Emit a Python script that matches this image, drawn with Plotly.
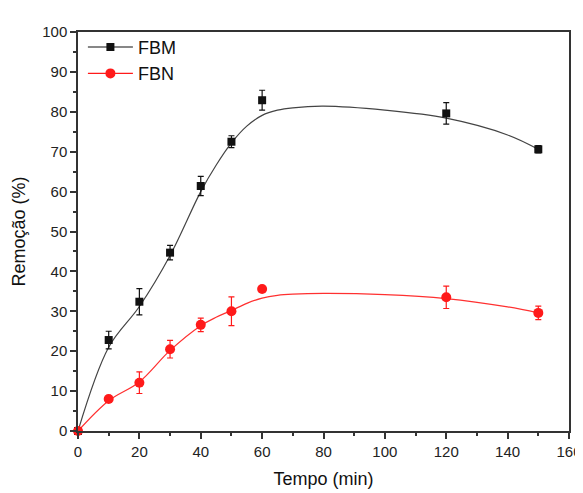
import plotly.graph_objects as go

tempo = [0, 10, 20, 30, 40, 50, 60, 120, 150]
fbm = [0, 22.8, 32.4, 44.7, 61.4, 72.5, 82.9, 79.6, 70.6]
fbm_err = [0, 2.2, 3.3, 1.8, 2.4, 1.5, 2.5, 2.7, 0.9]
fbn = [0, 8.0, 12.1, 20.5, 26.6, 30.0, 35.6, 33.5, 29.6]
fbn_err = [0, 0.8, 2.7, 2.2, 1.7, 3.6, 0, 2.8, 1.7]

# curvas ajustadas, lidas ponto a ponto no gráfico
curva_t = [0, 10, 20, 30, 40, 45, 50, 55, 60, 65, 70, 80, 100, 120, 140, 150]
curva_fbm = [0, 21.0, 31.2, 44.0, 60.0, 66.6, 72.2, 76.4, 79.1, 80.4, 81.0, 81.4, 80.4, 78.4, 74.2, 70.6]
curva_fbn = [0, 7.6, 12.3, 20.2, 26.4, 28.5, 30.2, 32.0, 33.3, 34.0, 34.3, 34.5, 34.2, 33.2, 31.1, 29.6]

FONT = "Arial, Liberation Sans, sans-serif"
PRETO = "#111111"
VERMELHO = "#ff1a1a"

fig = go.Figure()

series = [
    ("FBM", fbm, fbm_err, curva_fbm, PRETO, "#444444", "square", 8),
    ("FBN", fbn, fbn_err, curva_fbn, VERMELHO, "#ff3030", "circle", 10),
]
for nome, y, err, curva, cor, cor_linha, simbolo, tam in series:
    fig.add_trace(go.Scatter(
        x=curva_t, y=curva, mode="lines", line=dict(color=cor_linha, width=1.2, shape="spline", smoothing=1.0),
        showlegend=False, hoverinfo="skip",
    ))
    fig.add_trace(go.Scatter(
        x=tempo, y=y, mode="markers", name=nome, showlegend=False,
        marker=dict(symbol=simbolo, size=tam, color=cor),
        error_y=dict(type="data", array=err, color=cor, thickness=1.2, width=3),
        cliponaxis=False,
    ))
    # entrada da legenda (linha + marcador)
    fig.add_trace(go.Scatter(
        x=[None], y=[None], mode="lines+markers", name=nome,
        line=dict(color=cor, width=1.2), marker=dict(symbol=simbolo, size=tam, color=cor),
    ))

eixo = dict(
    showline=True, linecolor="#333333", linewidth=1.5, mirror=True,
    ticks="outside", ticklen=6, tickwidth=1.5, tickcolor="#333333",
    showgrid=False, zeroline=False, automargin=False,
    tickfont=dict(family=FONT, size=15, color="#222222"),
)

fig.update_xaxes(
    **eixo, range=[0, 160], dtick=20,
    minor=dict(ticks="outside", ticklen=3, tickwidth=1.5, tickcolor="#333333", dtick=10),
    title=dict(text="Tempo (min)", font=dict(family=FONT, size=18, color="#111111"), standoff=14),
)
fig.update_yaxes(
    **eixo, range=[0, 100], dtick=10,
    minor=dict(ticks="outside", ticklen=3, tickwidth=1.5, tickcolor="#333333", dtick=5),
    title=dict(text="Remoção (%)", font=dict(family=FONT, size=18, color="#111111"), standoff=12),
)

# a página tem 8px de margem no body; margens fixas (sem automargin)
fig.update_layout(
    width=575, height=485,
    margin=dict(l=70, r=14, t=24, b=62),
    plot_bgcolor="white", paper_bgcolor="white",
    legend=dict(
        x=0.01, y=1.008, xanchor="left", yanchor="top",
        font=dict(family=FONT, size=18, color="#111111"),
        bgcolor="rgba(0,0,0,0)", itemwidth=45, tracegroupgap=0,
    ),
)

fig.write_html("out.html")
